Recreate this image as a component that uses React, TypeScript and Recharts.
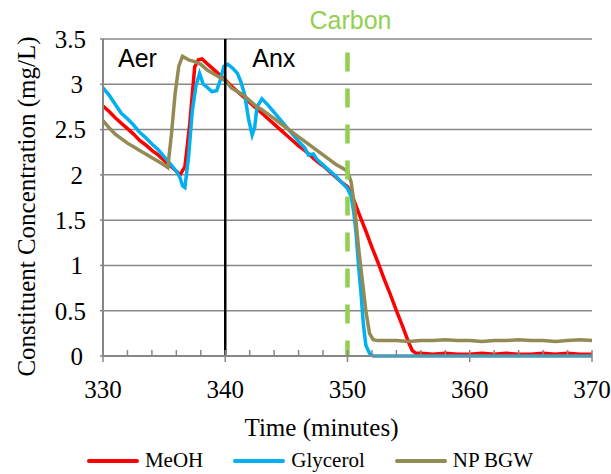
import React from "react";
import {
  LineChart,
  Line,
  XAxis,
  YAxis,
  CartesianGrid,
  ReferenceLine,
  ReferenceArea,
  Legend,
} from "recharts";

// [minutes, mg/L]
const meoh: [number, number][] = [
  [330, 2.76], [330.5, 2.7], [331, 2.63], [331.5, 2.57], [332, 2.51], [332.5, 2.45],
  [333, 2.38], [333.5, 2.33], [334, 2.27], [334.5, 2.22], [335, 2.16], [335.5, 2.1],
  [336, 2.04], [336.3, 2.0], [336.7, 2.09], [337.1, 2.57], [337.5, 3.19], [337.8, 3.27],
  [338.1, 3.28], [338.5, 3.23], [339, 3.17], [339.5, 3.11], [340, 3.05], [340.5, 2.98],
  [341, 2.92], [341.5, 2.86], [342, 2.8], [342.5, 2.74], [343, 2.68], [343.5, 2.62],
  [344, 2.56], [344.5, 2.5], [345, 2.44], [345.5, 2.38], [346, 2.32], [346.5, 2.27],
  [347, 2.21], [347.5, 2.15], [348, 2.1], [348.5, 2.04], [349, 1.98], [349.5, 1.92],
  [350, 1.87], [350.3, 1.8], [350.6, 1.69], [351, 1.55], [351.5, 1.38], [352, 1.2],
  [352.5, 1.03], [353, 0.85], [353.5, 0.68], [354, 0.5], [354.5, 0.33], [355, 0.15],
  [355.3, 0.06], [355.6, 0.03], [356, 0.03], [357, 0.02], [358, 0.03], [359, 0.02],
  [360, 0.02], [361, 0.03], [362, 0.02], [363, 0.03], [364, 0.02], [365, 0.02],
  [366, 0.03], [367, 0.02], [368, 0.03], [369, 0.02], [370, 0.02],
];

const glycerol: [number, number][] = [
  [330, 2.96], [330.5, 2.88], [331, 2.78], [331.5, 2.68], [332, 2.62], [332.5, 2.55],
  [333, 2.47], [333.5, 2.41], [334, 2.34], [334.5, 2.28], [335, 2.2], [335.5, 2.12],
  [336, 2.04], [336.3, 1.97], [336.5, 1.88], [336.7, 1.86], [337, 2.2], [337.3, 2.7],
  [337.6, 2.98], [337.9, 3.12], [338.2, 3.0], [338.5, 2.97], [338.9, 2.92], [339.3, 2.93],
  [339.6, 3.05], [339.9, 3.2], [340.2, 3.22], [340.6, 3.18], [341, 3.12], [341.3, 3.02],
  [341.6, 2.88], [341.9, 2.62], [342.2, 2.44], [342.4, 2.52], [342.6, 2.75], [343, 2.84],
  [343.5, 2.77], [344, 2.69], [344.5, 2.61], [345, 2.53], [345.5, 2.45], [346, 2.37],
  [346.5, 2.3], [346.8, 2.22], [347.2, 2.23], [347.5, 2.17], [348, 2.11], [348.5, 2.05],
  [349, 1.99], [349.5, 1.92], [350, 1.85], [350.3, 1.76], [350.5, 1.6], [350.7, 1.36],
  [350.9, 1.0], [351.1, 0.7], [351.3, 0.35], [351.5, 0.12], [351.8, 0.03], [352.1, 0],
  [355, 0], [360, 0], [365, 0], [370, 0],
];

const npBgw: [number, number][] = [
  [330, 2.6], [330.5, 2.52], [331, 2.45], [331.5, 2.4], [332, 2.35], [332.5, 2.31],
  [333, 2.27], [333.5, 2.23], [334, 2.19], [334.5, 2.15], [335, 2.11], [335.3, 2.08],
  [335.6, 2.45], [335.9, 2.9], [336.2, 3.2], [336.5, 3.31], [337, 3.27], [337.5, 3.25],
  [338, 3.22], [338.5, 3.16], [339, 3.12], [339.5, 3.08], [340, 3.04], [340.5, 2.96],
  [341, 2.92], [341.5, 2.88], [342, 2.82], [342.5, 2.76], [343, 2.72], [343.5, 2.67],
  [344, 2.62], [344.5, 2.57], [345, 2.52], [345.5, 2.47], [346, 2.42], [346.5, 2.37],
  [347, 2.32], [347.5, 2.27], [348, 2.22], [348.5, 2.17], [349, 2.12], [349.5, 2.08],
  [350, 2.04], [350.3, 1.92], [350.6, 1.62], [350.9, 1.2], [351.2, 0.85], [351.5, 0.5],
  [351.8, 0.25], [352.1, 0.18], [352.5, 0.17], [353, 0.17], [354, 0.17], [355, 0.16],
  [356, 0.17], [357, 0.17], [358, 0.18], [359, 0.17], [360, 0.17], [361, 0.16],
  [362, 0.17], [363, 0.17], [364, 0.18], [365, 0.17], [366, 0.17], [367, 0.16],
  [368, 0.17], [369, 0.18], [370, 0.17],
];

const xTicks = [330, 332, 334, 336, 338, 340, 342, 344, 346, 348, 350, 352, 354, 356, 358, 360, 362, 364, 366, 368, 370];
const yTicks = [0, 0.5, 1, 1.5, 2, 2.5, 3, 3.5];

const series = [
  { name: "MeOH", color: "#FF0000", values: meoh },
  { name: "Glycerol", color: "#00B0F0", values: glycerol },
  { name: "NP BGW", color: "#948A54", values: npBgw },
];

const serif = "'Liberation Serif', 'Times New Roman', serif";
const sans = "'Liberation Sans', Arial, sans-serif";
const grey = "#878787";

// minor ticks point up into the plot, major ones cross the axis
const XTick = (props: any) => {
  const { x, y, payload } = props;
  const major = payload.value % 10 === 0;
  return (
    <g>
      <line x1={x} x2={x} y1={major ? y + 6 : y} y2={y - 6} stroke={grey} strokeWidth={1.5} />
      {major && (
        <text x={x} y={y + 42} textAnchor="middle" fontFamily={serif} fontSize={25} fill="#000">
          {payload.value}
        </text>
      )}
    </g>
  );
};

const YTick = (props: any) => {
  const { x, y, payload } = props;
  const whole = Number.isInteger(payload.value);
  return (
    <text x={x - (whole ? 3 : 0)} y={y} dy="0.355em" textAnchor="end" fontFamily={serif} fontSize={25} fill="#000">
      {payload.value}
    </text>
  );
};

const LegendRow = () => (
  <div
    style={{
      width: 611,
      display: "flex",
      justifyContent: "center",
      alignItems: "center",
      paddingLeft: 9,
      paddingTop: 10,
      boxSizing: "border-box",
      fontFamily: serif,
      fontSize: 21,
      color: "#000",
    }}
  >
    {series.map((s, i) => (
      <div key={s.name} style={{ display: "flex", alignItems: "center", marginLeft: i ? 30 : 0 }}>
        <svg width={52} height={8} style={{ marginRight: 6 }}>
          <line x1={2} x2={50} y1={4} y2={4} stroke={s.color} strokeWidth={4} strokeLinecap="round" />
        </svg>
        <span>{s.name}</span>
      </div>
    ))}
  </div>
);

export default function App() {
  return (
    <div style={{ position: "absolute", left: 0, top: 0, background: "#fff" }}>
      <LineChart width={611} height={474} margin={{ top: 39, right: 19, bottom: 0, left: 0 }}>
        <CartesianGrid horizontal vertical={false} stroke={grey} strokeWidth={1.5} />
        <XAxis
          dataKey="t"
          type="number"
          domain={[330, 370]}
          ticks={xTicks}
          interval={0}
          height={82}
          tickSize={0}
          tickMargin={0}
          tickLine={false}
          axisLine={{ stroke: grey, strokeWidth: 2 }}
          tick={<XTick />}
          label={{
            value: "Time (minutes)",
            position: "insideTop",
            offset: 62,
            dx: -26,
            fill: "#000",
            fontSize: 25,
            fontFamily: serif,
          }}
        />
        <YAxis
          type="number"
          domain={[0, 3.5]}
          ticks={yTicks}
          width={103}
          tickSize={3}
          tickMargin={14}
          tickLine={{ stroke: grey, strokeWidth: 1.5 }}
          axisLine={{ stroke: grey, strokeWidth: 2 }}
          tick={<YTick />}
          label={{
            value: "Constituent Concentration (mg/L)",
            angle: -90,
            position: "center",
            dx: -25,
            dy: 9,
            fill: "#000",
            fontSize: 25,
            fontFamily: serif,
          }}
        />
        <ReferenceArea
          x1={330}
          x2={340}
          fill="none"
          stroke="none"
          label={{ value: "Aer", position: "insideTopLeft", offset: 0, dx: 15, dy: 10, fill: "#000", fontSize: 25, fontFamily: sans }}
        />
        <ReferenceArea
          x1={340}
          x2={350}
          fill="none"
          stroke="none"
          label={{ value: "Anx", position: "insideTopLeft", offset: 0, dx: 27, dy: 10, fill: "#000", fontSize: 25, fontFamily: sans }}
        />
        {series.map((s) => (
          <Line
            key={s.name}
            name={s.name}
            data={s.values.map(([t, v]) => ({ t, v }))}
            dataKey="v"
            type="linear"
            stroke={s.color}
            strokeWidth={3.5}
            dot={false}
            activeDot={false}
            isAnimationActive={false}
          />
        ))}
        <ReferenceLine x={340} stroke="#000" strokeWidth={2.5} />
        <ReferenceLine
          segment={[{ x: 350, y: 3.35 }, { x: 350, y: 0 }]}
          stroke="#92D050"
          strokeWidth={4.5}
          strokeDasharray="19 17"
          label={{ value: "Carbon", position: "top", offset: 24, dx: 3, fill: "#92D050", fontSize: 25, fontFamily: sans }}
        />
        <Legend
          verticalAlign="bottom"
          height={36}
          wrapperStyle={{ left: 0, width: 611 }}
          content={<LegendRow />}
        />
      </LineChart>
    </div>
  );
}
